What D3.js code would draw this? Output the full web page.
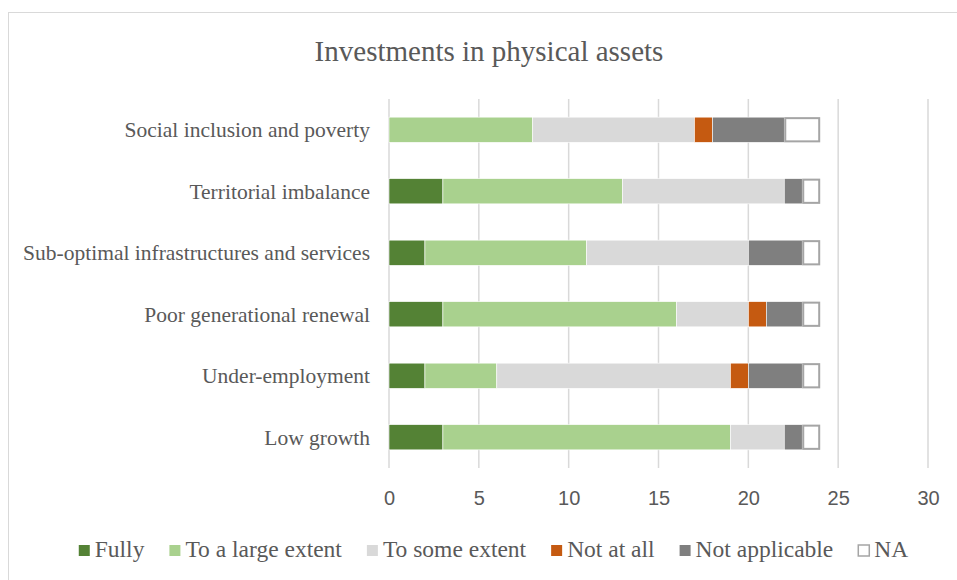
<!DOCTYPE html>
<html>
<head>
<meta charset="utf-8">
<script src="https://cdn.jsdelivr.net/npm/d3@7"></script>
<style>
  html, body { margin: 0; padding: 0; background: #ffffff; }
  svg { display: block; }
</style>
</head>
<body>
<svg id="chart" width="957" height="580"></svg>
<script>
// Categories, listed top to bottom
const categories = [
  "Social inclusion and poverty",
  "Territorial imbalance",
  "Sub-optimal infrastructures and services",
  "Poor generational renewal",
  "Under-employment",
  "Low growth"
];

// Response levels (stack order, left to right)
const seriesNames = ["Fully", "To a large extent", "To some extent", "Not at all", "Not applicable", "NA"];

// Counts per category for each response level
const fully          = [0, 3, 2, 3, 2, 3];
const toALargeExtent = [8, 10, 9, 13, 4, 16];
const toSomeExtent   = [9, 9, 9, 4, 13, 3];
const notAtAll       = [1, 0, 0, 1, 1, 0];
const notApplicable  = [4, 1, 3, 2, 3, 1];
const na             = [2, 1, 1, 1, 1, 1];

const xTicks = [0, 5, 10, 15, 20, 25, 30];

const colors = {
  "Fully": "#548235",
  "To a large extent": "#a9d18e",
  "To some extent": "#d9d9d9",
  "Not at all": "#c55a11",
  "Not applicable": "#7f7f7f",
  "NA": "#ffffff"
};

const seriesValues = [fully, toALargeExtent, toSomeExtent, notAtAll, notApplicable, na];
const rows = categories.map((c, i) => {
  const r = { category: c };
  seriesNames.forEach((s, k) => { r[s] = seriesValues[k][i]; });
  return r;
});

const svg = d3.select("#chart");
const W = 957, H = 580;
const textColor = "#595959";
const serif = "'Liberation Serif', 'Times New Roman', serif";
const sans = "'Liberation Sans', Arial, sans-serif";

// Chart frame
svg.append("rect")
  .attr("x", 8.5).attr("y", 12.5)
  .attr("width", W + 10).attr("height", H + 10)
  .attr("fill", "#ffffff")
  .attr("stroke", "#d9d9d9").attr("stroke-width", 1);

// Title
svg.append("text")
  .attr("x", 489).attr("y", 61)
  .attr("text-anchor", "middle")
  .attr("font-family", serif)
  .attr("font-size", 29)
  .attr("fill", textColor)
  .text("Investments in physical assets");

const plot = { left: 389, right: 928, top: 99, bottom: 468 };

const x = d3.scaleLinear().domain([0, 30]).range([plot.left, plot.right]);
const y = d3.scaleBand().domain(categories)
  .range([plot.top, plot.bottom])
  .paddingInner(0.59).paddingOuter(0.295);

// Vertical gridlines
svg.append("g").selectAll("line")
  .data(xTicks)
  .join("line")
  .attr("x1", d => x(d)).attr("x2", d => x(d))
  .attr("y1", plot.top).attr("y2", plot.bottom)
  .attr("stroke", "#d9d9d9").attr("stroke-width", 1.5);

// Stacked bars
const stacked = d3.stack().keys(seriesNames)(rows);
const layers = svg.append("g").selectAll("g")
  .data(stacked)
  .join("g")
  .attr("fill", d => colors[d.key]);

layers.each(function(layer) {
  const isNA = layer.key === "NA";
  d3.select(this).selectAll("rect")
    .data(layer.filter(d => d[1] - d[0] > 0))
    .join("rect")
    .attr("x", d => x(d[0]) + (isNA ? 1 : 0))
    .attr("y", d => y(d.data.category) + (isNA ? 1 : 0))
    .attr("width", d => x(d[1]) - x(d[0]) - (isNA ? 2 : 0))
    .attr("height", y.bandwidth() - (isNA ? 2 : 0))
    .attr("stroke", isNA ? "#a5a5a5" : "#ffffff")
    .attr("stroke-width", isNA ? 2 : 0.6);
});

// Category labels
svg.append("g").selectAll("text")
  .data(categories)
  .join("text")
  .attr("x", 370)
  .attr("y", d => y(d) + y.bandwidth() / 2)
  .attr("dy", "0.35em")
  .attr("text-anchor", "end")
  .attr("font-family", serif)
  .attr("font-size", 21.5)
  .attr("fill", textColor)
  .text(d => d);

// Value axis
const xAxis = svg.append("g")
  .attr("transform", `translate(0,${plot.bottom})`)
  .call(d3.axisBottom(x).tickValues(xTicks).tickSize(0).tickPadding(23));
xAxis.select(".domain").remove();
xAxis.selectAll("text")
  .attr("font-family", sans)
  .attr("font-size", 20)
  .attr("fill", textColor);

// Legend
const legend = svg.append("g");
const items = legend.selectAll("g")
  .data(seriesNames)
  .join("g");
items.append("rect")
  .attr("width", 11).attr("height", 11)
  .attr("y", -11.5)
  .attr("fill", d => colors[d])
  .attr("stroke", d => d === "NA" ? "#a5a5a5" : "none")
  .attr("stroke-width", 1.5);
items.append("text")
  .attr("x", 16)
  .attr("font-family", serif)
  .attr("font-size", 23.5)
  .attr("fill", textColor)
  .text(d => d);

let cursor = 0;
const gap = 25;
items.each(function() {
  const g = d3.select(this);
  const w = 16 + g.select("text").node().getComputedTextLength();
  g.attr("transform", `translate(${cursor},0)`);
  cursor += w + gap;
});
const totalW = cursor - gap;
legend.attr("transform", `translate(${493.5 - totalW / 2},556.5)`);
</script>
</body>
</html>
